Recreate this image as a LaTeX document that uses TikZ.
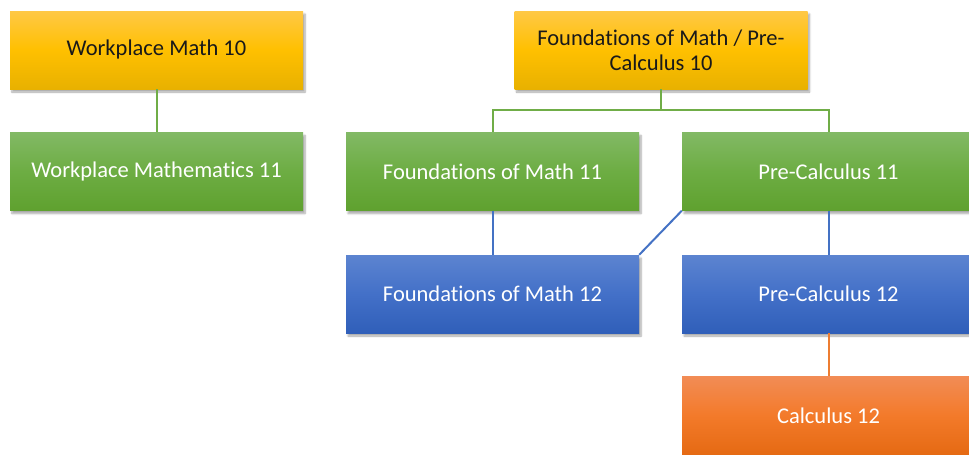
\documentclass[tikz,border=0pt]{standalone}
\usepackage{fontspec}
\setmainfont[Ligatures=NoCommon]{Carlito}
\usetikzlibrary{shadows.blur}
\definecolor{goldT}{HTML}{FFC846}
\definecolor{goldM}{HTML}{FFC000}
\definecolor{goldB}{HTML}{E8B100}
\definecolor{grnT}{HTML}{82B965}
\definecolor{grnM}{HTML}{6DAD43}
\definecolor{grnB}{HTML}{5FA12F}
\definecolor{bluT}{HTML}{5C84D0}
\definecolor{bluM}{HTML}{4370C8}
\definecolor{bluB}{HTML}{305FB9}
\definecolor{orT}{HTML}{F28C55}
\definecolor{orM}{HTML}{F37A2A}
\definecolor{orB}{HTML}{E56A13}
\definecolor{lgrn}{HTML}{70AD47}
\definecolor{lblu}{HTML}{4472C4}
\definecolor{lor}{HTML}{ED7D31}
\tikzset{
  box/.style={rectangle, minimum width=293pt, minimum height=78pt, inner sep=0pt,
    align=center, font=\fontsize{22.5}{25}\selectfont,
    blur shadow={shadow xshift=2pt, shadow yshift=-3pt, shadow blur steps=6, shadow opacity=35}},
  goldbox/.style={box, top color=goldT, bottom color=goldB, middle color=goldM, text=black!90},
  grnbox/.style={box, top color=grnT, bottom color=grnB, middle color=grnM, text=white},
  blubox/.style={box, top color=bluT, bottom color=bluB, middle color=bluM, text=white},
  orbox/.style={box, top color=orT, bottom color=orB, middle color=orM, text=white},
  link/.style={line width=2pt},
}
\begin{document}
\begin{tikzpicture}[x=1pt,y=-1pt]
\useasboundingbox (0,0) rectangle (969,455);
\clip (0,0) rectangle (969,455);
\node[goldbox] (w10) at (156.5,50) {Workplace Math 10};
\node[grnbox] (w11) at (156.5,171.5) {Workplace Mathematics 11};
\node[goldbox] (f10) at (661,50) {Foundations of Math / Pre-\\Calculus 10};
\node[grnbox] (f11) at (492.5,171.5) {Foundations of Math 11};
\node[grnbox] (p11) at (828.5,171.5) {Pre-Calculus 11};
\node[blubox] (f12) at (492.5,294) {Foundations of Math 12};
\node[blubox] (p12) at (828.5,294) {Pre-Calculus 12};
\node[orbox] (c12) at (828.5,415.5) {Calculus 12};
\draw[link, lgrn] (w10.south) -- (w11.north);
\draw[link, lgrn] (f10.south) -- ++(0,21) -| (f11.north);
\draw[link, lgrn] (f10.south) -- ++(0,21) -| (p11.north);
\draw[link, lblu] (f11.south) -- (f12.north);
\draw[link, lblu] (p11.south) -- (p12.north);
\draw[link, lblu] (p11.south west) -- (f12.north east);
\draw[link, lor] (p12.south) -- (c12.north);
\end{tikzpicture}
\end{document}
